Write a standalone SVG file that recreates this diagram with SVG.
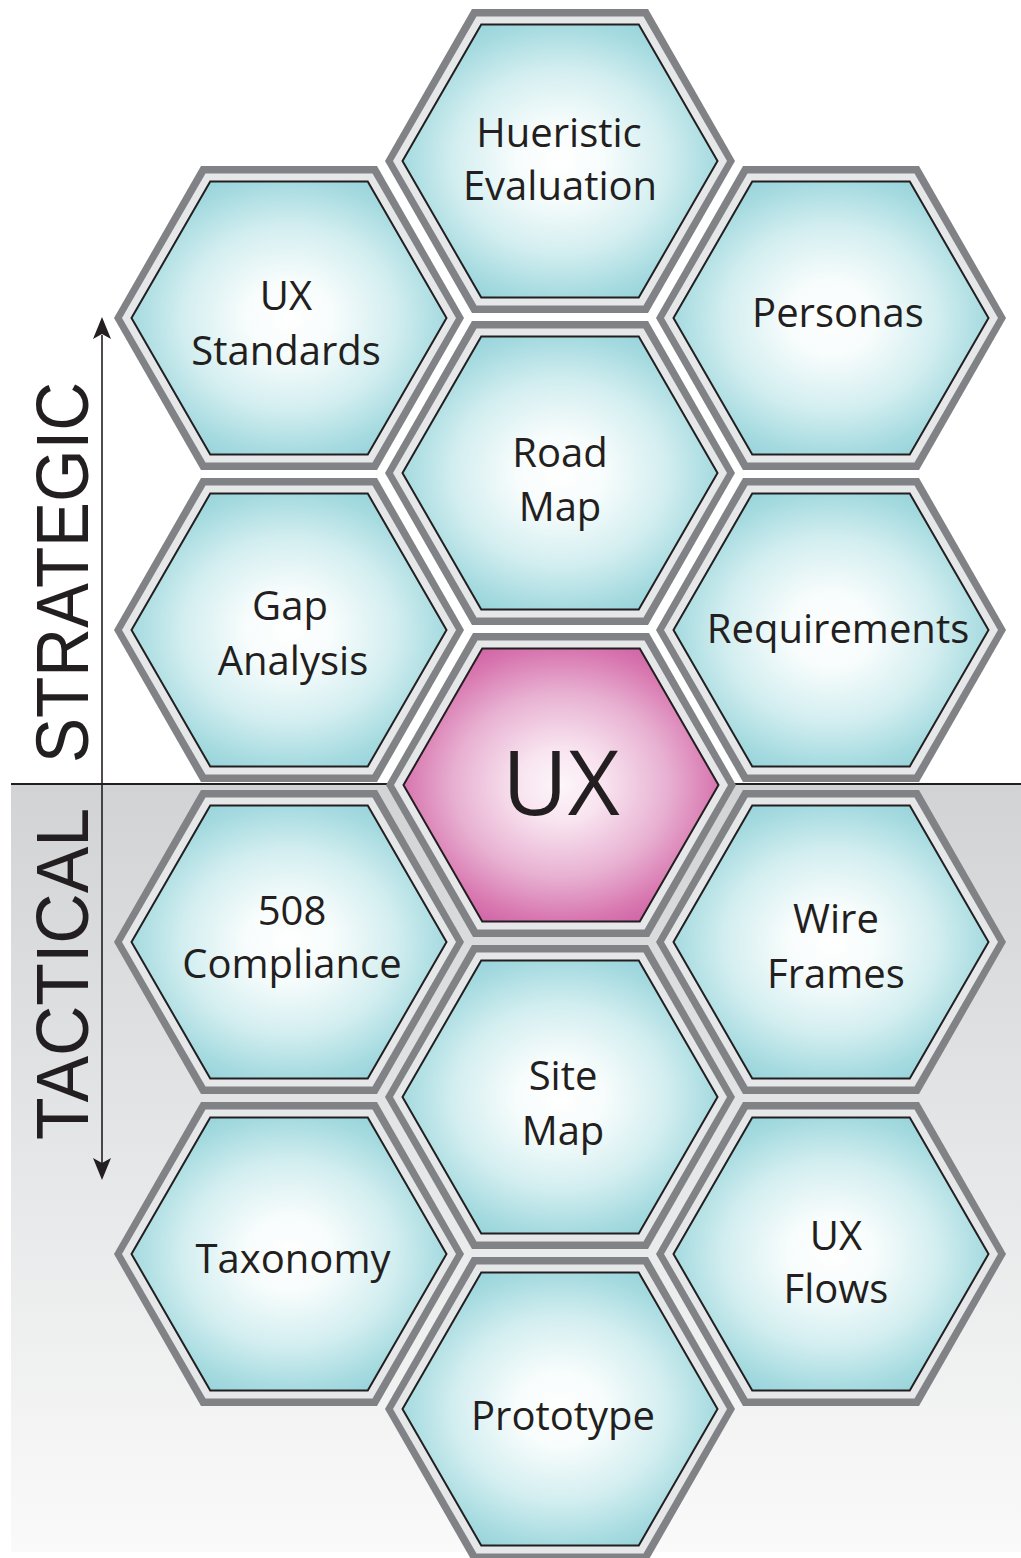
<svg xmlns="http://www.w3.org/2000/svg" xmlns:xlink="http://www.w3.org/1999/xlink" width="1021" height="1558" viewBox="0 0 1021 1558">
<defs>
<style>
.o{fill:#808285}
.m{fill:#e6e7e8}
.i{fill:url(#teal);stroke:#231f20;stroke-width:2;stroke-linejoin:miter}
.p{fill:url(#pink);stroke:#231f20;stroke-width:2}
.t{font-family:"Open Sans","Noto Sans","DejaVu Sans",sans-serif;font-size:40px;fill:#231f20;text-anchor:middle}
.side{font-family:"Liberation Sans",Arial,sans-serif;font-size:74px;fill:#231f20}
</style>
<radialGradient id="teal" cx="0.5" cy="0.5" r="0.56">
<stop offset="0" stop-color="#ffffff"/>
<stop offset="0.25" stop-color="#f7fcfc"/>
<stop offset="0.6" stop-color="#d3eef0"/>
<stop offset="0.88" stop-color="#a6dbe0"/>
<stop offset="1" stop-color="#98d4da"/>
</radialGradient>
<radialGradient id="pink" cx="0.5" cy="0.5" r="0.56">
<stop offset="0" stop-color="#fdf6fa"/>
<stop offset="0.25" stop-color="#f8e3ef"/>
<stop offset="0.6" stop-color="#e8b1d2"/>
<stop offset="0.88" stop-color="#d877b0"/>
<stop offset="1" stop-color="#d065a6"/>
</radialGradient>
<linearGradient id="bg" x1="0" y1="0" x2="0" y2="1">
<stop offset="0" stop-color="#d1d3d4"/>
<stop offset="0.5" stop-color="#e6e7e8"/>
<stop offset="1" stop-color="#fafafa"/>
</linearGradient>
<polygon id="hO" points="-175,0 -88,-152 88,-152 175,0 88,152 -88,152"/>
<polygon id="hM" points="-167,0 -83.5,-144.6 83.5,-144.6 167,0 83.5,144.6 -83.5,144.6"/>
<polygon id="hI" points="-157.5,0 -78.75,-136.4 78.75,-136.4 157.5,0 78.75,136.4 -78.75,136.4"/>
<marker id="ah" viewBox="0 0 20 24" refX="10" refY="1" markerWidth="20" markerHeight="24" orient="auto-start-reverse" markerUnits="userSpaceOnUse">
<path d="M10,0 L19,22 L10,17 L1,22 Z" fill="#231f20"/>
</marker>
</defs>

<rect x="0" y="0" width="1021" height="1558" fill="#ffffff"/>
<rect x="11" y="785" width="1010" height="767" fill="url(#bg)"/>

<g id="connectors">
<line x1="11" y1="784" x2="1021" y2="784" stroke="#231f20" stroke-width="2"/>
<line x1="102" y1="335" x2="102" y2="1163" stroke="#231f20" stroke-width="1.6"/>
<path d="M102,317 L111,339 L102,334 L93,339 Z" fill="#231f20"/>
<path d="M102,1180 L111,1158 L102,1163 L93,1158 Z" fill="#231f20"/>
</g>

<text class="side" transform="translate(88,763) rotate(-90)" textLength="381" lengthAdjust="spacingAndGlyphs">STRATEGIC</text>
<text class="side" transform="translate(88,1140) rotate(-90)" textLength="332" lengthAdjust="spacingAndGlyphs">TACTICAL</text>

<g id="hueristic-evaluation">
<use href="#hO" x="560" y="161" class="o"/><use href="#hM" x="560" y="161" class="m"/><use href="#hI" x="560" y="161" class="i"/>
<text class="t" x="559" y="147">Hueristic</text><text class="t" x="560" y="200">Evaluation</text>
</g>
<g id="ux-standards">
<use href="#hO" x="289" y="318" class="o"/><use href="#hM" x="289" y="318" class="m"/><use href="#hI" x="289" y="318" class="i"/>
<text class="t" x="286" y="310">UX</text><text class="t" x="286" y="365">Standards</text>
</g>
<g id="personas">
<use href="#hO" x="831" y="318" class="o"/><use href="#hM" x="831" y="318" class="m"/><use href="#hI" x="831" y="318" class="i"/>
<text class="t" x="838" y="327">Personas</text>
</g>
<g id="road-map">
<use href="#hO" x="560" y="473" class="o"/><use href="#hM" x="560" y="473" class="m"/><use href="#hI" x="560" y="473" class="i"/>
<text class="t" x="560" y="467">Road</text><text class="t" x="560" y="521">Map</text>
</g>
<g id="gap-analysis">
<use href="#hO" x="289" y="630" class="o"/><use href="#hM" x="289" y="630" class="m"/><use href="#hI" x="289" y="630" class="i"/>
<text class="t" x="290" y="620">Gap</text><text class="t" x="293" y="675">Analysis</text>
</g>
<g id="requirements">
<use href="#hO" x="831" y="630" class="o"/><use href="#hM" x="831" y="630" class="m"/><use href="#hI" x="831" y="630" class="i"/>
<text class="t" x="838" y="643">Requirements</text>
</g>
<g id="ux">
<use href="#hO" x="561" y="785" class="o"/><use href="#hM" x="561" y="785" class="m"/><use href="#hI" x="561" y="785" class="p"/>
<text class="t" x="561" y="815" style="font-size:90px">UX</text>
</g>
<g id="compliance-508">
<use href="#hO" x="289" y="942" class="o"/><use href="#hM" x="289" y="942" class="m"/><use href="#hI" x="289" y="942" class="i"/>
<text class="t" x="292" y="925">508</text><text class="t" x="292" y="978">Compliance</text>
</g>
<g id="wire-frames">
<use href="#hO" x="831" y="942" class="o"/><use href="#hM" x="831" y="942" class="m"/><use href="#hI" x="831" y="942" class="i"/>
<text class="t" x="836" y="933">Wire</text><text class="t" x="836" y="988">Frames</text>
</g>
<g id="site-map">
<use href="#hO" x="560" y="1097" class="o"/><use href="#hM" x="560" y="1097" class="m"/><use href="#hI" x="560" y="1097" class="i"/>
<text class="t" x="563" y="1090">Site</text><text class="t" x="563" y="1145">Map</text>
</g>
<g id="taxonomy">
<use href="#hO" x="289" y="1254" class="o"/><use href="#hM" x="289" y="1254" class="m"/><use href="#hI" x="289" y="1254" class="i"/>
<text class="t" x="293" y="1273">Taxonomy</text>
</g>
<g id="ux-flows">
<use href="#hO" x="831" y="1254" class="o"/><use href="#hM" x="831" y="1254" class="m"/><use href="#hI" x="831" y="1254" class="i"/>
<text class="t" x="836" y="1250">UX</text><text class="t" x="836" y="1303">Flows</text>
</g>
<g id="prototype">
<use href="#hO" x="560" y="1409" class="o"/><use href="#hM" x="560" y="1409" class="m"/><use href="#hI" x="560" y="1409" class="i"/>
<text class="t" x="563" y="1430">Prototype</text>
</g>
</svg>
